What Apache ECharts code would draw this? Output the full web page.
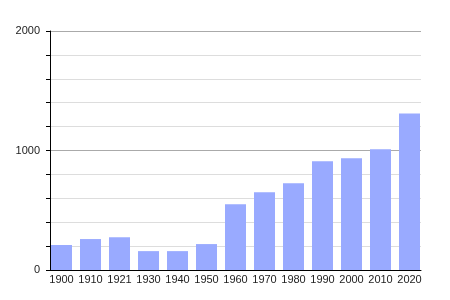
<!DOCTYPE html>
<html><head><meta charset="utf-8">
<script src="https://cdn.jsdelivr.net/npm/echarts@6/dist/echarts.min.js"></script>
<style>html,body{margin:0;padding:0;background:#fff}#c{width:450px;height:300px}</style>
</head><body><div id="c"></div>
<script>
const categories = ['1900','1910','1921','1930','1940','1950','1960','1970','1980','1990','2000','2010','2020'];
const population = [209, 259, 274, 158, 158, 217, 551, 651, 726, 910, 935, 1010, 1310];
const yMin = 0, yMax = 2000, yStep = 200, yLabelStep = 1000;

const font = 'Liberation Sans, Arial, sans-serif';
const chart = echarts.init(document.getElementById('c'), null, {renderer: 'canvas'});
chart.setOption({
  animation: false,
  grid: [
    {left: 50, right: 29, top: 31, bottom: 30, containLabel: false},
    {left: 47, right: 26, top: 31, bottom: 30, containLabel: false}
  ],
  xAxis: [{
    gridIndex: 0, type: 'category', data: categories,
    axisLine: {lineStyle: {color: '#000', width: 1}},
    axisTick: {show: false},
    axisLabel: {show: false}
  }, {
    gridIndex: 1, type: 'category', data: categories,
    axisLine: {show: false},
    axisTick: {show: false},
    axisLabel: {color: '#222', fontSize: 11, fontFamily: font, margin: 4, interval: 0}
  }],
  yAxis: [{
    gridIndex: 0, type: 'value', min: yMin, max: yMax, interval: yStep,
    axisLine: {show: true, lineStyle: {color: '#000', width: 1}},
    axisTick: {show: true, length: 4, lineStyle: {color: '#000'}},
    axisLabel: {color: '#222', fontSize: 11, fontFamily: font, margin: 10,
      formatter: v => (v % yLabelStep === 0 ? String(v) : '')},
    splitLine: {show: true, lineStyle: {color: ['#aaaaaa', '#dddddd', '#dddddd', '#dddddd', '#dddddd'], width: 1}}
  }, {
    gridIndex: 1, type: 'value', min: yMin, max: yMax, interval: yStep,
    show: false
  }],
  series: [{
    type: 'bar', xAxisIndex: 1, yAxisIndex: 1, data: population, barWidth: 21,
    itemStyle: {color: '#99aaff'}
  }]
});
</script></body></html>
